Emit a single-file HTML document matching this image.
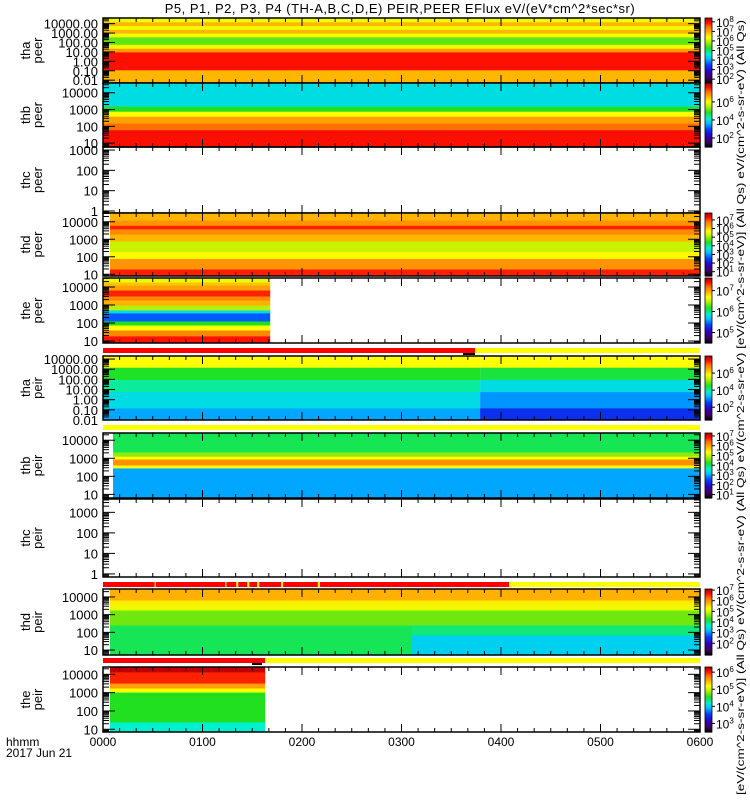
<!DOCTYPE html>
<html><head><meta charset="utf-8">
<style>
html,body{margin:0;padding:0;background:#fff;}
svg{display:block;font-family:"Liberation Sans",sans-serif;}
</style></head>
<body>
<svg id="chart" width="750" height="800" viewBox="0 0 750 800" xmlns="http://www.w3.org/2000/svg">
<text x="400" y="13" font-size="13" text-anchor="middle" letter-spacing="0.5">P5, P1, P2, P3, P4 (TH-A,B,C,D,E) PEIR,PEER EFlux eV/(eV*cm^2*sec*sr)</text>
<text x="6" y="746" font-size="12">hhmm</text>
<text x="6" y="757" font-size="12">2017 Jun 21</text>
<text transform="translate(744,795) rotate(-90)" font-size="10.5" textLength="775" lengthAdjust="spacingAndGlyphs">[eV/(cm^2-s-sr-eV)] (All Qs) eV/(cm^2-s-sr-eV) (All Qs) eV/(cm^2-s-sr-eV) [eV/(cm^2-s-sr-eV)] (All Qs) eV/(cm^2-s-sr-eV) (All Qs)</text>
</svg>
<script>
// ---------- time axis data ----------
const xTickHours = [0,1,2,3,4,5,6];
const xTickLabels = ["0000","0100","0200","0300","0400","0500","0600"];

// ---------- panel names ----------
const panelProbes = ["tha","thb","thc","thd","the","tha","thb","thc","thd","the"];
const panelKinds  = ["peer","peer","peer","peer","peer","peir","peir","peir","peir","peir"];

// ---------- energy axis ranges (log10 eV) ----------
const eMin = [-2.3, 0.77, -0.1, 0.9, 0.89, -2.0, 0.8, -0.15, 0.72, 0.85];
const eMax = [ 4.6, 4.58, 3.15, 4.5, 4.5,  4.3, 4.4,  3.65, 4.45, 4.4];

// ---------- y tick labels ----------
const yTickVals = [
 [4,3,2,1,0,-1,-2],[4,3,2,1],[3,2,1,0],[4,3,2,1],[4,3,2,1],
 [4,3,2,1,0,-1,-2],[4,3,2,1],[3,2,1,0],[4,3,2,1],[4,3,2,1]];
const yTickLabels = [
 ["10000.00","1000.00","100.00","10.00","1.00","0.10","0.01"],
 ["10000","1000","100","10"],["1000","100","10","1"],["10000","1000","100","10"],["10000","1000","100","10"],
 ["10000.00","1000.00","100.00","10.00","1.00","0.10","0.01"],
 ["10000","1000","100","10"],["1000","100","10","1"],["10000","1000","100","10"],["10000","1000","100","10"]];

// ---------- spectrogram data: energy bin edges (log10 eV) ----------
const binEdges = [
 [-2.3,-0.9,1.0,1.4,1.8,2.6,3.0,3.4,3.8,4.2,4.6],
 [0.77,1.8,2.2,2.6,2.9,3.2,4.58],
 [],
 [0.9,1.3,1.9,2.3,2.9,3.3,3.6,3.8,4.1,4.5],
 [0.89,1.28,1.61,1.89,2.11,2.56,2.72,3.0,3.28,3.5,3.83,4.11,4.28,4.5],
 [-2.0,-0.8,0.8,2.0,3.2,4.3],
 [0.8,2.47,2.63,2.96,3.12,3.35,4.4],
 [],
 [0.72,1.85,2.42,3.26,3.55,3.83,4.45],
 [0.85,1.4,3.03,3.25,3.52,4.13,4.4]];
// time segment boundaries (hours)
const segTimes = [
 [0,6],[0,6],[],[0.07,6],[0,1.68],[0,3.79,6],[0.1,6],[],[0.07,3.1,6],[0.07,1.63]];
// log10 energy flux per segment per energy bin
const fluxSeg = [
 [[7.0,8.0,7.2,6.4,5.6,6.4,7.0,6.4,7.0,6.4]],
 [[7.7,7.25,6.8,6.1,4.9,4.0]],
 [],
 [[7.3,6.6,5.8,5.3,6.3,6.7,7.3,6.6,6.3]],
 [[7.41,7.14,6.73,6.2,5.43,5.8,6.5,6.98,7.14,7.38,7.04,6.92,6.67]],
 [[3.2,3.65,4.1,4.6,5.9],[2.4,3.1,3.65,4.5,5.9]],
 [[3.04,5.44,6.24,5.44,4.77,4.11]],
 [],
 [[4.12,4.12,4.62,5.24,5.49,5.86],[3.4,4.0,4.62,5.24,5.49,5.86]],
 [[4.21,4.59,5.24,5.62,6.03,6.3]]];

// ---------- colorbar ranges (log10 flux) ----------
const cbMin = [1.6,1.0,null,0.5,4.5,0.5,0.65,null,0.9,2.5];
const cbMax = [8.4,8.1,null,7.8,7.6,8.0,7.3,null,7.1,6.3];
const cbTicks = [[2,3,4,5,6,7,8],[2,4,6],[],[1,2,3,4,5,6,7],[5,6,7],[2,4,6],[1,2,3,4,5,6,7],[],[2,3,4,5,6,7],[3,4,5,6]];

// ---------- quality flag bars ----------
const flagStart = [0,3.74, 0,0,0.52,0.53,1.23,1.24,1.34,1.36,1.45,1.47,1.55,1.57,1.79,1.81,2.16,2.18,4.08, 0,1.63];
const flagEnd   = [3.74,6, 6,0.52,0.53,1.23,1.24,1.34,1.36,1.45,1.47,1.55,1.57,1.79,1.81,2.16,2.18,4.08,6, 1.63,6];
const flagState = [1,0, 0,1,0,1,0,1,0,1,0,1,0,1,0,1,0,1,0, 1,0];
const flagRow   = [0,0, 1,2,2,2,2,2,2,2,2,2,2,2,2,2,2,2,2, 3,3];

// ---------- layout (pixels) ----------
const X0 = 103, X1 = 700;
const pTop = [18,83,147,213,278,356,433,499,589,667];
const pBot = [83,147,213,276,343,420,498,577,655,732];
const flagY = [348,425,582,658];
const flagH = 5;

const svg = document.getElementById('chart');
const NS = 'http://www.w3.org/2000/svg';
function mk(tag, attrs, parent){
  const e = document.createElementNS(NS, tag);
  for (const k in attrs) e.setAttribute(k, attrs[k]);
  (parent||svg).appendChild(e);
  return e;
}
function xOf(h){ return X0 + (h/6)*(X1-X0); }
function yOf(p, le){ return pTop[p] + (eMax[p]-le)/(eMax[p]-eMin[p])*(pBot[p]-pTop[p]); }
const stops = [[0,0,0,0],[0.08,64,0,96],[0.18,48,0,192],[0.28,0,64,255],[0.38,0,192,255],[0.45,0,240,208],[0.55,32,224,32],[0.65,192,240,0],[0.72,255,255,0],[0.80,255,176,0],[0.88,255,112,0],[0.94,255,16,0],[1,192,0,0]];
function cmap(l){
  l = Math.max(0, Math.min(1, l));
  for (let i=1;i<stops.length;i++){
    if (l <= stops[i][0]){
      const a=stops[i-1], b=stops[i], t=(l-a[0])/(b[0]-a[0]);
      return 'rgb('+Math.round(a[1]+(b[1]-a[1])*t)+','+Math.round(a[2]+(b[2]-a[2])*t)+','+Math.round(a[3]+(b[3]-a[3])*t)+')';
    }
  }
  return 'rgb(192,0,0)';
}

for (let p=0;p<10;p++){
  const g = mk('g',{});
  
  
  const edges = binEdges[p];
  for (let s=0;s<fluxSeg[p].length;s++){
    for (let b=0;b<edges.length-1;b++){
      const lvl = (fluxSeg[p][s][b]-cbMin[p])/(cbMax[p]-cbMin[p]);
      const xa = xOf(segTimes[p][s]), xb = xOf(segTimes[p][s+1]);
      const ya = yOf(p, edges[b+1]), yb = yOf(p, edges[b]);
      const r = mk('rect',{x:xa.toFixed(1),y:ya.toFixed(1),width:(xb-xa).toFixed(1),height:(yb-ya+0.5).toFixed(1),fill:cmap(lvl)},g);
      
      
    }
  }
  const fr = mk('rect',{x:X0,y:pTop[p],width:X1-X0,height:pBot[p]-pTop[p],fill:'none',stroke:'#000','stroke-width':1.5},g);
  
  
  const lo = Math.floor(eMin[p]), hi = Math.ceil(eMax[p]);
  for (let d=lo; d<=hi; d++){
    for (let m=1;m<10;m++){
      const le = d + Math.log10(m);
      if (le < eMin[p] || le > eMax[p]) continue;
      const y = yOf(p, le);
      const len = m===1 ? 12 : 6;
      mk('line',{x1:X0,y1:y,x2:X0+len,y2:y,stroke:'#000','stroke-width':1},g);
      mk('line',{x1:X1,y1:y,x2:X1-len,y2:y,stroke:'#000','stroke-width':1},g);
    }
  }
  for (let k=0;k<=36;k++){
    const x = xOf(k/6);
    const len = (k%6===0)?8:4;
    mk('line',{x1:x,y1:pBot[p],x2:x,y2:pBot[p]-len,stroke:'#000','stroke-width':1},g);
    mk('line',{x1:x,y1:pTop[p],x2:x,y2:pTop[p]+len,stroke:'#000','stroke-width':1},g);
  }
  for (let i=0;i<yTickVals[p].length;i++){
    const t = mk('text',{x:98,y:(yOf(p,yTickVals[p][i])+5).toFixed(1),'font-size':13,'text-anchor':'end'},g);
    
    
    t.textContent = yTickLabels[p][i];
  }
  const cy = (pTop[p]+pBot[p])/2;
  const t1 = mk('text',{transform:'translate(30,'+cy+') rotate(-90)','font-size':13,'text-anchor':'middle'},g);
  
  
  t1.textContent = panelProbes[p];
  const t2 = mk('text',{transform:'translate(42,'+cy+') rotate(-90)','font-size':13,'text-anchor':'middle'},g);
  
  
  t2.textContent = panelKinds[p];
  if (cbMin[p] !== null){
    const cg = mk('g',{},g);
    
    
    const n = 64, h = pBot[p]-pTop[p];
    for (let i=0;i<n;i++){
      mk('rect',{x:705,y:(pTop[p]+h*(n-1-i)/n).toFixed(2),width:7,height:(h/n+0.6).toFixed(2),fill:cmap(i/(n-1))},cg);
    }
    mk('rect',{x:705,y:pTop[p],width:7,height:h,fill:'none',stroke:'#000','stroke-width':0.8},cg);
    for (const v of cbTicks[p]){
      const y = pBot[p] - (v-cbMin[p])/(cbMax[p]-cbMin[p])*h;
      mk('line',{x1:712,y1:y,x2:715,y2:y,stroke:'#000'},cg);
      const tt = mk('text',{x:716,y:(y+5).toFixed(1),'font-size':12},cg);
      
      
      tt.appendChild(document.createTextNode('10'));
      const sup = mk('tspan',{dy:-5,'font-size':8},tt);
      sup.textContent = String(v);
    }
  }
}

for (let i=0;i<flagStart.length;i++){
  const xa = xOf(flagStart[i]), xb = xOf(flagEnd[i]);
  const r = mk('rect',{x:xa.toFixed(1),y:flagY[flagRow[i]],width:(xb-xa).toFixed(1),height:flagH,fill:flagState[i]?'#ff0000':'#ffff00'});
  
  
}
mk('rect',{x:463,y:353,width:12,height:2,fill:'#000'});
mk('rect',{x:252,y:663,width:10,height:2,fill:'#000'});

for (let i=0;i<xTickHours.length;i++){
  const t = mk('text',{x:xOf(xTickHours[i]),y:746,'font-size':12,'text-anchor':'middle'});
  
  
  t.textContent = xTickLabels[i];
}
</script>
</body></html>
